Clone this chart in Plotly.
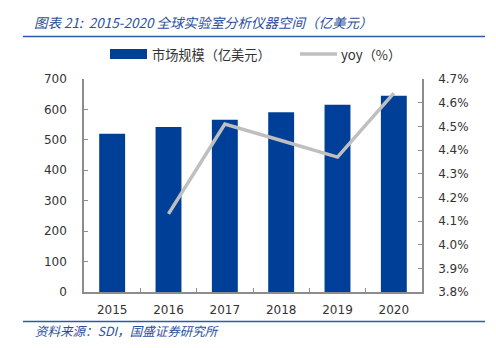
import plotly.graph_objects as go

years = ["2015", "2016", "2017", "2018", "2019", "2020"]
market = [520, 542, 566, 591, 615, 645]
yoy = [None, 4.13, 4.51, 4.44, 4.37, 4.64]
left_ticks = [0, 100, 200, 300, 400, 500, 600, 700]
right_ticks = [3.8, 3.9, 4.0, 4.1, 4.2, 4.3, 4.4, 4.5, 4.6, 4.7]
right_labels = [f"{v:.1f}%" for v in right_ticks]

W, H = 496, 348
L, R, T, B = 84, 74, 79, 56
PW, PH = W - L - R, H - T - B

BLUE = "#003f98"
GRAY = "#bfbfbf"
TXT = "#333333"
TITLE_C = "#2a4f9e"
NUM_FONT = "DejaVu Sans, Verdana, sans-serif"
CJK_FONT = "Noto Sans CJK SC, sans-serif"

fig = go.Figure()
fig.add_trace(go.Bar(x=years, y=market, marker=dict(color=BLUE, line=dict(width=0)),
                     name="市场规模（亿美元）", showlegend=False))
fig.add_trace(go.Scatter(x=years, y=yoy, yaxis="y2", mode="lines",
                         line=dict(color=GRAY, width=3.5), name="yoy（%）",
                         showlegend=False, connectgaps=False))

def px2x(px):
    return (px - L) / PW

def px2y(py):
    return (H - B - py) / PH

shapes = [
    dict(type="line", xref="paper", yref="paper", x0=px2x(23), x1=px2x(485),
         y0=px2y(36.5), y1=px2y(36.5), line=dict(color="#2a5aa8", width=1.5)),
    dict(type="line", xref="paper", yref="paper", x0=px2x(23), x1=px2x(485),
         y0=px2y(321.5), y1=px2y(321.5), line=dict(color="#2a5aa8", width=1.5)),
    # legend swatches
    dict(type="rect", xref="paper", yref="paper", x0=px2x(110), x1=px2x(147),
         y0=px2y(59), y1=px2y(49), fillcolor=BLUE, line=dict(width=0)),
    dict(type="line", xref="paper", yref="paper", x0=px2x(300), x1=px2x(337),
         y0=px2y(54), y1=px2y(54), line=dict(color=GRAY, width=3.5)),
]

ann = [
    dict(text="<i>图表 21:  2015-2020 全球实验室分析仪器空间（亿美元）</i>", xref="paper", yref="paper",
         x=px2x(32), y=px2y(22), xanchor="left", yanchor="middle", showarrow=False,
         font=dict(family=CJK_FONT, size=13.5, color=TITLE_C)),
    dict(text="<i>资料来源：SDI，国盛证券研究所</i>", xref="paper", yref="paper",
         x=px2x(33), y=px2y(330), xanchor="left", yanchor="middle", showarrow=False,
         font=dict(family=CJK_FONT, size=12.5, color=TITLE_C)),
    dict(text="市场规模（亿美元）", xref="paper", yref="paper",
         x=px2x(150), y=px2y(54), xanchor="left", yanchor="middle", showarrow=False,
         font=dict(family=CJK_FONT, size=13.2, color=TXT)),
    dict(text="yoy（%）", xref="paper", yref="paper",
         x=px2x(339), y=px2y(54), xanchor="left", yanchor="middle", showarrow=False,
         font=dict(family=CJK_FONT, size=13.2, color=TXT)),
]

fig.update_layout(
    width=W, height=H,
    margin=dict(l=L, r=R, t=T, b=B, pad=0),
    paper_bgcolor="white", plot_bgcolor="white",
    bargap=0.54,
    showlegend=False,
    shapes=shapes,
    annotations=ann,
    xaxis=dict(type="category", showline=True, linecolor="#8c8c8c", linewidth=1.5,
               ticks="inside", tickson="boundaries", ticklen=4, tickcolor="#8c8c8c",
               tickfont=dict(family=NUM_FONT, size=12, color=TXT), showgrid=False,
               ticklabelstandoff=6),
    yaxis=dict(range=[0, 700], tickvals=left_ticks, showline=True, linecolor="#8c8c8c",
               linewidth=1.5, ticks="inside", ticklen=4, tickcolor="#8c8c8c",
               tickfont=dict(family=NUM_FONT, size=12, color=TXT), showgrid=False,
               zeroline=False, ticklabelstandoff=13),
    yaxis2=dict(range=[3.8, 4.7], overlaying="y", side="right", tickvals=right_ticks,
                ticktext=right_labels, showline=True, linecolor="#8c8c8c", linewidth=1.5,
                ticks="inside", ticklen=4, tickcolor="#8c8c8c",
                tickfont=dict(family=NUM_FONT, size=12, color=TXT), showgrid=False,
                zeroline=False, ticklabelstandoff=12),
)

fig.write_html("out.html")
